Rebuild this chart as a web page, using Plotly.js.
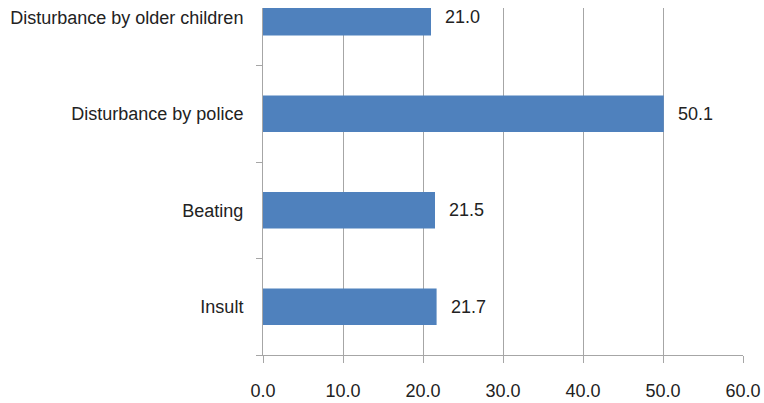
<!DOCTYPE html>
<html>
<head>
<meta charset="utf-8">
<script src="https://cdn.plot.ly/plotly-3.0.1.min.js"></script>
<style>html,body{margin:0;padding:0;background:#fff;}#chart{width:764px;height:403px;}</style>
</head>
<body>
<div id="chart"></div>
<script>
var categories = ["Insult", "Beating", "Disturbance by police", "Disturbance by older children"];
var values = [21.7, 21.5, 50.1, 21.0];
var xTickValues = [0, 10, 20, 30, 40, 50, 60];
var xTickLabels = ["0.0", "10.0", "20.0", "30.0", "40.0", "50.0", "60.0"];

var fontFam = "Liberation Sans, Arial, sans-serif";
var trace = {
  type: "bar",
  orientation: "h",
  y: categories,
  x: values,
  width: 0.38,
  marker: {color: "#4F81BD", line: {width: 0}},
  hoverinfo: "none"
};

var annotations = categories.map(function (c, i) {
  return {
    x: values[i], y: c, xref: "x", yref: "y",
    text: values[i].toFixed(1), showarrow: false,
    xanchor: "left", yanchor: "middle", xshift: 12,
    font: {family: fontFam, size: 18, color: "#222"}
  };
});

var layout = {
  width: 764, height: 403,
  margin: {l: 263, r: 21, t: 8, b: 48},
  paper_bgcolor: "#fff", plot_bgcolor: "#fff",
  showlegend: false,
  font: {family: fontFam, size: 18, color: "#222"},
  xaxis: {
    range: [0, 60], tickvals: xTickValues, ticktext: xTickLabels,
    showgrid: true, gridcolor: "#A6A6A6", gridwidth: 1,
    zeroline: false, showline: true, linecolor: "#A6A6A6", linewidth: 1,
    ticks: "outside", ticklen: 7, tickcolor: "#A6A6A6", tickwidth: 1,
    ticklabelstandoff: 12,
    tickfont: {family: fontFam, size: 18, color: "#222"},
    fixedrange: true
  },
  yaxis: {
    type: "category", range: [-0.5, 3.096],
    showgrid: false, zeroline: false, showline: true, linecolor: "#A6A6A6", linewidth: 1,
    ticks: "outside", tickson: "boundaries", ticklen: 6, tickcolor: "#A6A6A6", tickwidth: 1,
    ticklabelstandoff: 15,
    tickfont: {family: fontFam, size: 18, color: "#222"},
    fixedrange: true
  },
  annotations: annotations
};

Plotly.newPlot("chart", [trace], layout, {displayModeBar: false, staticPlot: true});
</script>
</body>
</html>
